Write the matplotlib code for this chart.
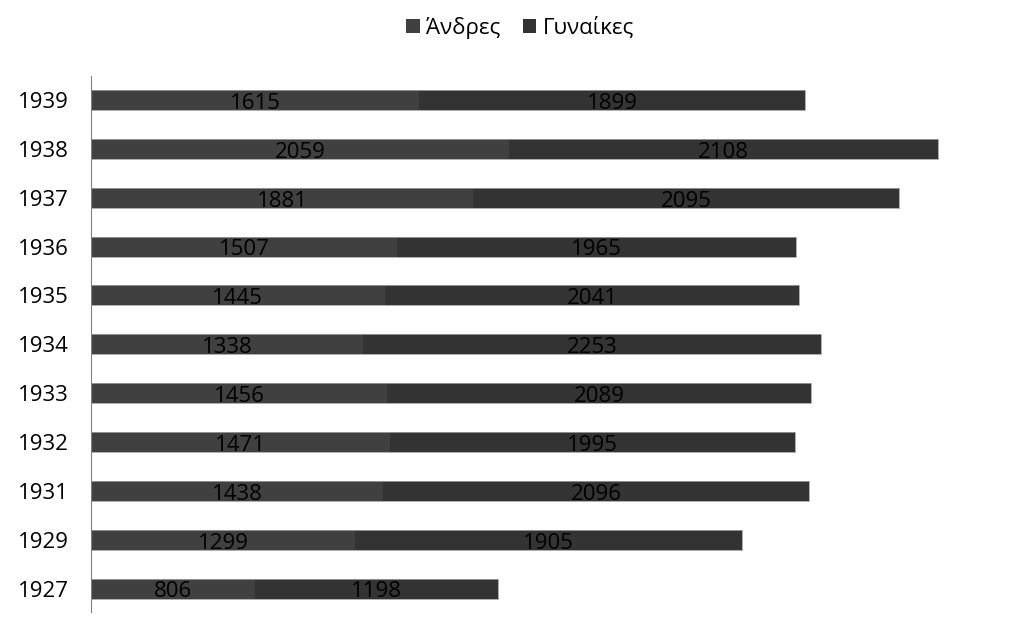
import numpy as np
import matplotlib
matplotlib.use('Agg')
from matplotlib import pyplot as plt

years = ['1927', '1929', '1931', '1932', '1933', '1934', '1935', '1936', '1937', '1938', '1939']
andres = [806, 1299, 1438, 1471, 1456, 1338, 1445, 1507, 1881, 2059, 1615]
gynaikes = [1198, 1905, 2096, 1995, 2089, 2253, 2041, 1965, 2095, 2108, 1899]

plt.rcParams['font.family'] = ['Open Sans', 'DejaVu Sans']

fig = plt.figure(figsize=(10.24, 6.34), dpi=100)
ax = fig.add_axes([91 / 1024, 22 / 634, 909 / 1024, 536 / 634])

y = np.arange(len(years))
totals = [a + g for a, g in zip(andres, gynaikes)]
b1 = ax.barh(y, andres, height=0.41, color='#404040', linewidth=0, label='Άνδρες')
b2 = ax.barh(y, gynaikes, left=andres, height=0.41, color='#333333', linewidth=0, label='Γυναίκες')
# thin light outline around each whole bar
ax.barh(y, totals, height=0.41, fill=False, edgecolor='#a0a0a0', linewidth=0.6)

for i in range(len(years)):
    ax.text(andres[i] / 2, y[i] - 0.07, str(andres[i]), ha='center', va='center', fontsize=16, color='black')
    ax.text(andres[i] + gynaikes[i] / 2, y[i] - 0.07, str(gynaikes[i]), ha='center', va='center', fontsize=16, color='black')

ax.set_yticks(y)
ax.set_yticklabels(years, fontsize=16)
ax.set_ylim(-0.48, 10.49)
ax.set_xlim(0, 909 / (714 / 3514))
ax.set_xticks([])
ax.tick_params(axis='y', length=0, pad=16)
for s in ['top', 'right', 'bottom']:
    ax.spines[s].set_visible(False)
ax.spines['left'].set_color('#808080')

fig.legend(handles=[b1, b2], loc='center', bbox_to_anchor=(0.508, 1 - 28 / 634), ncol=2, frameon=False,
           fontsize=16, handlelength=0.6, handleheight=0.6, handletextpad=0.3, columnspacing=1.0)

fig.savefig('out.png', dpi=100)
